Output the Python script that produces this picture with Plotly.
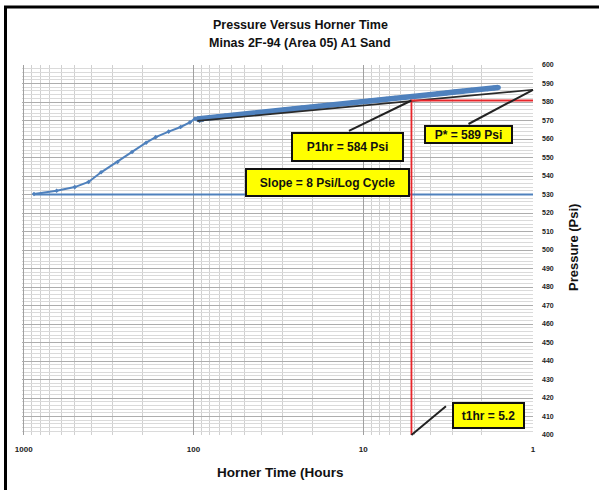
import numpy as np
import plotly.graph_objects as go

# ---------------- data ----------------
early_x = [870, 640, 500, 415, 350, 280, 230, 190, 167, 140, 119, 105, 98, 92, 88]
early_y = [530.3, 532.0, 534.0, 536.8, 542.0, 547.6, 553.0, 558.0, 561.0, 564.0, 566.5, 569.0, 571.0, 569.8, 570.3]

late_x = [95, 88, 80, 72, 65, 58, 52, 46, 41, 36.5, 32.5, 29, 26, 23, 20.5, 18.3, 16.3, 14.5,
          13, 11.6, 10.3, 9.2, 8.2, 7.3, 6.5, 5.8, 5.2, 4.6, 4.1, 3.65, 3.25, 2.9, 2.6, 2.3,
          2.05, 1.85, 1.7, 1.6]
late_y = [570.8, 571.1, 571.5, 572.0, 572.4, 572.9, 573.3, 573.8, 574.3, 574.8, 575.3, 575.8,
          576.2, 576.7, 577.2, 577.7, 578.2, 578.6, 579.1, 579.6, 580.1, 580.5, 581.0, 581.5,
          582.0, 582.5, 582.9, 583.4, 583.9, 584.4, 584.9, 585.4, 585.8, 586.3, 586.8, 587.2,
          587.6, 587.8]

base_x = [870, 1]
base_y = [530, 530]

straight_x = [95, 1]
straight_y = [569.8, 586.6]

t1hr = 5.2
p1hr = 580.8
p_star = 586.6
y_min, y_max = 400, 600

x_ticks = [1000, 100, 10, 1]
x_tick_text = ["1000", "100", "10", "1"]
y_ticks = list(range(400, 601, 10))

title_lines = ["Pressure Versus Horner Time", "Minas 2F-94 (Area 05) A1 Sand"]

# ---------------- layout helpers ----------------
W, H = 599, 490
PL, PR, PT, PB = 22, 533, 65, 435
FONT = "Liberation Sans Narrow, Arial Narrow, Liberation Sans, Arial"


def px(x, y):
    return (x - PL) / (PR - PL), 1 - (y - PT) / (PB - PT)


BLUE = "#4F81BD"

fig = go.Figure()
fig.add_trace(go.Scatter(x=base_x, y=base_y, mode="lines",
                         line=dict(color=BLUE, width=1.8), hoverinfo="skip"))
fig.add_trace(go.Scatter(x=early_x, y=early_y, mode="lines+markers",
                         line=dict(color=BLUE, width=2),
                         marker=dict(color=BLUE, size=3.5, symbol="diamond")))
fig.add_trace(go.Scatter(x=late_x, y=late_y, mode="lines+markers",
                         line=dict(color=BLUE, width=5.5),
                         marker=dict(color=BLUE, size=5, symbol="circle")))
fig.add_trace(go.Scatter(x=straight_x, y=straight_y, mode="lines",
                         line=dict(color="#2a2a2a", width=1.6)))
fig.add_trace(go.Scatter(x=[t1hr, t1hr, 1], y=[y_min, p1hr, p1hr], mode="lines",
                         line=dict(color="#e8262b", width=1.8)))

annotations = []
# titles
for i, (t, yy) in enumerate(zip(title_lines, [25, 43])):
    xp, yp = px(300, yy)
    annotations.append(dict(text="<b>%s</b>" % t, xref="paper", yref="paper", x=xp, y=yp,
                            showarrow=False, xanchor="center", yanchor="middle",
                            font=dict(family=FONT, size=12.5, color="#111")))
# axis titles
xp, yp = px(280, 472)
annotations.append(dict(text="<b>Horner Time (Hours</b>", xref="paper", yref="paper", x=xp, y=yp,
                        showarrow=False, xanchor="center", yanchor="middle",
                        font=dict(family=FONT, size=13.5, color="#111")))
xp, yp = px(573, 248)
annotations.append(dict(text="<b>Pressure (Psi)</b>", xref="paper", yref="paper", x=xp, y=yp,
                        showarrow=False, xanchor="center", yanchor="middle", textangle=-90,
                        font=dict(family=FONT, size=13, color="#111")))

# connector lines
for tipx, tipy, ax, ay in [(t1hr, p1hr, -64, 31), (1, p_star, -66, 35), (t1hr, y_min, 36, -30)]:
    annotations.append(dict(text="", x=np.log10(tipx), y=tipy, xref="x", yref="y",
                            showarrow=True, arrowhead=0, arrowwidth=2, arrowcolor="#222",
                            ax=ax, ay=ay, standoff=0, startstandoff=0))

# yellow boxes: (text, cx, cy, w, h)
boxes = [("P1hr = 584 Psi", 347, 147, 109, 26),
         ("P* = 589 Psi", 468, 134.5, 85, 15),
         ("Slope = 8 Psi/Log Cycle", 327, 182, 161, 25),
         ("t1hr = 5.2", 488, 415, 69, 23)]
for t, cx, cy, w, h in boxes:
    xp, yp = px(cx, cy)
    annotations.append(dict(text="<b>%s</b>" % t, xref="paper", yref="paper", x=xp, y=yp,
                            showarrow=False, xanchor="center", yanchor="middle",
                            width=w, height=h, bgcolor="#ffff00", bordercolor="#111",
                            borderwidth=2, borderpad=0,
                            font=dict(family=FONT, size=12, color="#111")))

bx0, by0 = px(5.5, 7)
bx1, by1 = px(606, 496)
shapes = [dict(type="rect", xref="paper", yref="paper", x0=bx0, y0=by1, x1=bx1, y1=by0,
               line=dict(color="#000", width=3), fillcolor="rgba(0,0,0,0)", layer="above")]

fig.update_layout(
    width=W, height=H,
    margin=dict(l=PL, r=W - PR, t=PT, b=H - PB),
    paper_bgcolor="white", plot_bgcolor="white",
    showlegend=False,
    annotations=annotations,
    shapes=shapes,
    font=dict(family=FONT),
    xaxis=dict(type="log", range=[3.01, 0], tickmode="array", tickvals=x_ticks,
               ticktext=["<b>%s</b>" % s for s in x_tick_text],
               tickfont=dict(size=8, color="#222", family=FONT),
               showgrid=True, gridcolor="#a0a0a0", gridwidth=1,
               minor=dict(dtick="D1", showgrid=True, gridcolor="#d0d0d0", gridwidth=1, ticks=""),
               zeroline=False, showline=False, ticks="", ticklabelstandoff=8),
    yaxis=dict(range=[y_min, y_max], side="right", tickmode="array", tickvals=y_ticks,
               ticktext=["<b>%d</b>" % v for v in y_ticks],
               tickfont=dict(size=7, color="#222", family=FONT),
               showgrid=True, gridcolor="#adadad", gridwidth=1,
               minor=dict(dtick=2, showgrid=True, gridcolor="#dadada", gridwidth=1, ticks=""),
               zeroline=False, showline=False, ticks="", ticklabelstandoff=8),
)

fig.write_html("out.html")
